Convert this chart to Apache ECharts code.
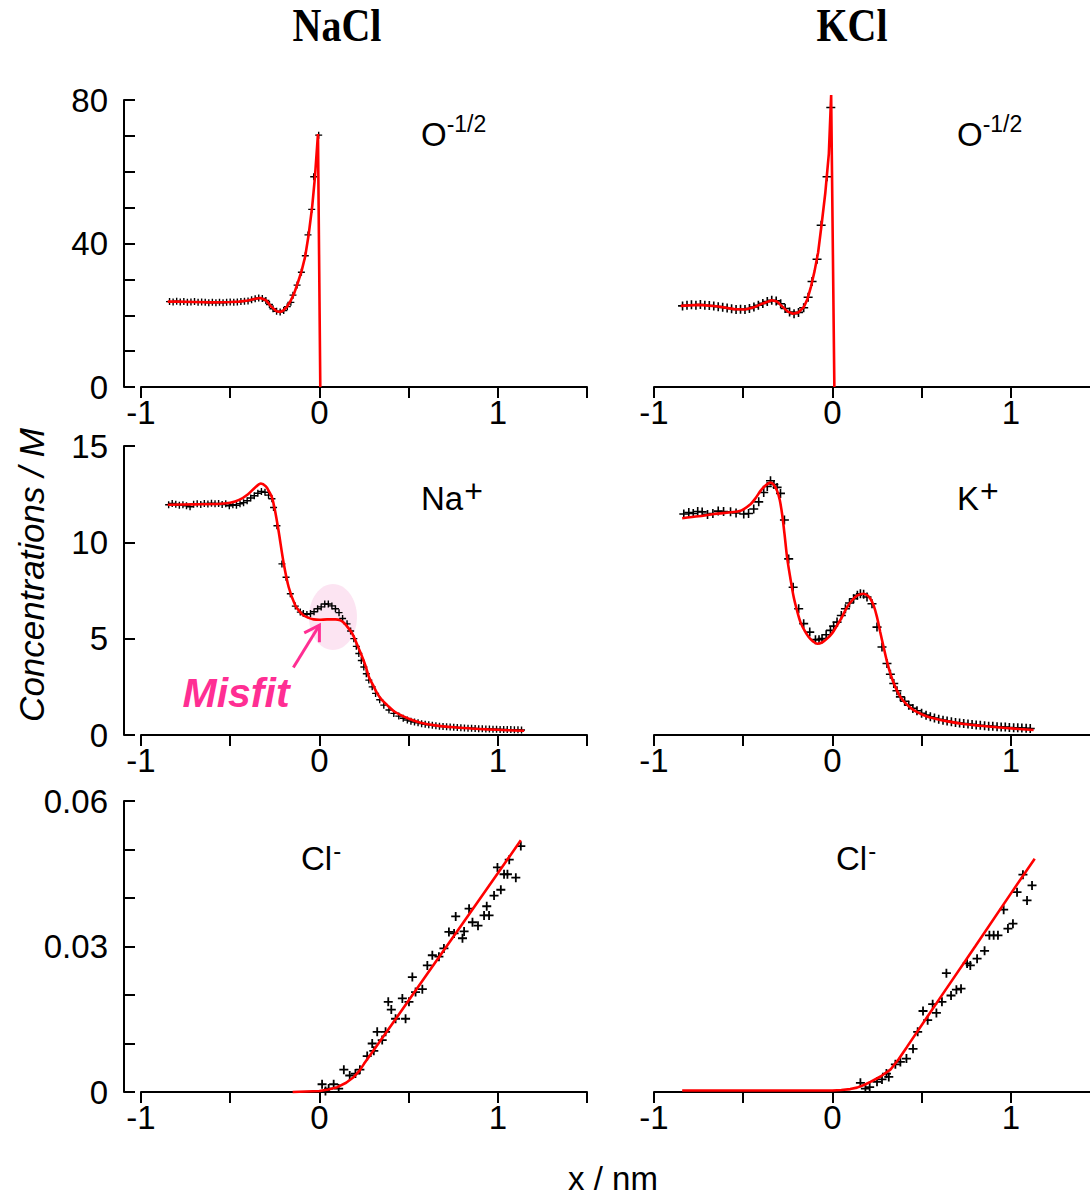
<!DOCTYPE html>
<html>
<head>
<meta charset="utf-8">
<script src="https://cdn.jsdelivr.net/npm/echarts@6/dist/echarts.min.js"></script>
<style>
html,body{margin:0;padding:0;background:#fff;}
#chart{width:1090px;height:1196px;}
</style>
</head>
<body>
<div id="chart"></div>
<script>
// ---------------- DATA ----------------
const columnTitles = ['NaCl', 'KCl'];
const xTickLabels = ['-1', '0', '1'];
const yTickLabelsO = ['0', '40', '80'];
const yTickLabelsCation = ['0', '5', '10', '15'];
const yTickLabelsCl = ['0', '0.03', '0.06'];

// O^-1/2 , NaCl : simulation points [x (nm), concentration (M)]
const oNaClSim = [[-0.84,23.8],[-0.82,23.7],[-0.80,23.9],[-0.78,23.7],[-0.76,23.8],[-0.74,23.6],[-0.72,23.7],[-0.70,23.8],[-0.68,23.6],[-0.66,23.7],[-0.64,23.6],[-0.62,23.5],[-0.60,23.6],[-0.58,23.5],[-0.56,23.6],[-0.54,23.5],[-0.52,23.6],[-0.50,23.7],[-0.48,23.6],[-0.46,23.7],[-0.44,23.8],[-0.42,23.9],[-0.40,24.0],[-0.38,24.3],[-0.36,24.6],[-0.34,24.8],[-0.32,24.7],[-0.30,24.1],[-0.28,23.0],[-0.26,21.8],[-0.24,21.1],[-0.22,20.9],[-0.20,21.3],[-0.18,22.4],[-0.16,23.6],[-0.148,25.6],[-0.125,28.4],[-0.101,32.0],[-0.079,36.6],[-0.064,42.4],[-0.043,49.5],[-0.032,58.6],[-0.004,70.2]];
const oNaClFit = [[-0.85,23.8],[-0.80,23.8],[-0.70,23.7],[-0.60,23.6],[-0.50,23.7],[-0.45,23.8],[-0.40,24.1],[-0.36,24.6],[-0.33,24.8],[-0.30,24.2],[-0.27,22.4],[-0.24,21.1],[-0.22,20.9],[-0.20,21.4],[-0.18,22.5],[-0.16,24.1],[-0.14,26.3],[-0.12,29.2],[-0.10,32.3],[-0.08,36.3],[-0.06,42.5],[-0.04,50.5],[-0.025,58.5],[-0.008,70.5],[0.005,0]];

// O^-1/2 , KCl
const oKClSim = [[-0.84,22.6],[-0.815,22.8],[-0.79,22.9],[-0.765,22.8],[-0.74,23.0],[-0.715,22.8],[-0.69,22.7],[-0.665,22.6],[-0.64,22.4],[-0.615,22.2],[-0.59,22.0],[-0.565,21.8],[-0.54,21.6],[-0.515,21.7],[-0.49,21.6],[-0.465,21.9],[-0.44,22.3],[-0.415,22.8],[-0.39,23.3],[-0.365,23.8],[-0.34,24.2],[-0.315,24.0],[-0.29,23.2],[-0.265,21.9],[-0.24,20.9],[-0.215,20.4],[-0.19,20.8],[-0.161,22.1],[-0.136,25.0],[-0.114,29.4],[-0.086,35.6],[-0.063,45.1],[-0.030,58.6],[-0.009,77.9]];
const oKClFit = [[-0.85,22.6],[-0.75,22.9],[-0.65,22.5],[-0.55,21.7],[-0.49,21.6],[-0.44,22.2],[-0.39,23.3],[-0.34,24.2],[-0.31,23.8],[-0.28,22.4],[-0.25,21.0],[-0.22,20.4],[-0.19,20.8],[-0.16,22.3],[-0.14,24.5],[-0.12,28.0],[-0.10,32.3],[-0.08,37.5],[-0.06,45.5],[-0.04,54.0],[-0.02,65.0],[-0.007,81.4],[0.011,0]];

// Na+ , NaCl
const naSim = [[-0.845,11.95],[-0.825,12.02],[-0.805,11.98],[-0.785,11.92],[-0.765,11.95],[-0.745,11.9],[-0.725,11.85],[-0.705,11.98],[-0.685,12.0],[-0.665,11.97],[-0.645,12.02],[-0.625,11.99],[-0.605,12.03],[-0.585,12.0],[-0.565,12.02],[-0.545,11.96],[-0.525,12.0],[-0.505,11.9],[-0.485,11.95],[-0.465,11.92],[-0.445,12.0],[-0.425,12.06],[-0.405,12.16],[-0.385,12.3],[-0.365,12.42],[-0.345,12.55],[-0.325,12.64],[-0.305,12.6],[-0.285,12.45],[-0.266,12.26],[-0.257,11.81],[-0.238,10.86],[-0.21,8.88],[-0.187,8.19],[-0.163,7.33],[-0.135,6.69],[-0.107,6.38],[-0.09,6.3],[-0.07,6.26],[-0.05,6.3],[-0.03,6.4],[-0.01,6.55],[0.01,6.65],[0.03,6.8],[0.05,6.8],[0.07,6.7],[0.09,6.55],[0.11,6.35],[0.13,6.05],[0.155,5.77],[0.175,5.4],[0.193,5.0],[0.207,4.6],[0.221,4.23],[0.235,3.87],[0.249,3.53],[0.263,3.18],[0.277,2.85],[0.296,2.5],[0.315,2.16],[0.338,1.83],[0.361,1.55],[0.39,1.3],[0.417,1.12],[0.445,0.98],[0.47,0.87],[0.493,0.78],[0.513,0.72],[0.533,0.67],[0.553,0.63],[0.573,0.59],[0.593,0.56],[0.613,0.53],[0.633,0.5],[0.653,0.48],[0.673,0.46],[0.693,0.44],[0.713,0.43],[0.733,0.41],[0.753,0.4],[0.773,0.39],[0.793,0.37],[0.813,0.36],[0.833,0.35],[0.853,0.35],[0.873,0.34],[0.893,0.33],[0.913,0.32],[0.933,0.31],[0.953,0.31],[0.973,0.3],[0.993,0.3],[1.013,0.29],[1.033,0.29],[1.053,0.28],[1.073,0.28],[1.093,0.27],[1.113,0.27],[1.133,0.26]];
const naFit = [[-0.85,11.95],[-0.7,11.97],[-0.55,12.0],[-0.5,12.05],[-0.45,12.2],[-0.4,12.5],[-0.36,12.85],[-0.328,13.05],[-0.3,12.9],[-0.28,12.6],[-0.266,12.33],[-0.25,11.7],[-0.229,10.6],[-0.2,8.9],[-0.172,7.67],[-0.135,6.72],[-0.11,6.4],[-0.088,6.2],[-0.06,6.08],[-0.032,6.0],[0.0,5.98],[0.043,6.0],[0.09,6.0],[0.118,5.95],[0.14,5.8],[0.165,5.52],[0.185,5.25],[0.202,4.91],[0.22,4.5],[0.24,4.05],[0.26,3.55],[0.277,3.02],[0.3,2.6],[0.324,2.16],[0.35,1.82],[0.38,1.55],[0.42,1.22],[0.474,0.95],[0.52,0.78],[0.567,0.64],[0.65,0.5],[0.755,0.4],[0.85,0.34],[0.942,0.29],[1.05,0.25],[1.148,0.22]];

// K+ , KCl
const kSim = [[-0.833,11.47],[-0.805,11.55],[-0.78,11.5],[-0.755,11.6],[-0.73,11.58],[-0.7,11.45],[-0.67,11.5],[-0.64,11.62],[-0.61,11.6],[-0.571,11.59],[-0.54,11.52],[-0.497,11.47],[-0.47,11.5],[-0.441,11.73],[-0.413,12.1],[-0.385,12.59],[-0.365,12.9],[-0.347,13.2],[-0.328,13.0],[-0.31,12.85],[-0.291,12.54],[-0.269,11.16],[-0.245,9.14],[-0.22,7.67],[-0.189,6.55],[-0.161,5.78],[-0.127,5.34],[-0.095,4.95],[-0.075,4.95],[-0.058,5.0],[-0.035,5.2],[-0.011,5.43],[0.007,5.65],[0.026,5.86],[0.05,6.2],[0.073,6.55],[0.096,6.85],[0.119,7.07],[0.14,7.25],[0.157,7.33],[0.175,7.3],[0.194,7.16],[0.222,6.81],[0.25,5.6],[0.278,4.57],[0.306,3.71],[0.325,3.15],[0.344,2.67],[0.362,2.3],[0.381,1.98],[0.405,1.75],[0.428,1.55],[0.451,1.38],[0.474,1.26],[0.5,1.13],[0.525,1.03],[0.549,0.95],[0.572,0.88],[0.596,0.82],[0.62,0.77],[0.643,0.73],[0.667,0.69],[0.69,0.65],[0.713,0.62],[0.736,0.6],[0.76,0.57],[0.783,0.55],[0.806,0.52],[0.829,0.5],[0.853,0.48],[0.876,0.46],[0.899,0.45],[0.923,0.43],[0.946,0.42],[0.969,0.41],[0.992,0.39],[1.016,0.38],[1.039,0.37],[1.062,0.36],[1.086,0.35],[1.109,0.34]];
const kFit = [[-0.842,11.25],[-0.75,11.35],[-0.665,11.47],[-0.515,11.64],[-0.459,11.98],[-0.43,12.3],[-0.403,12.67],[-0.375,12.95],[-0.347,13.1],[-0.328,12.98],[-0.31,12.67],[-0.295,12.2],[-0.282,11.47],[-0.268,10.4],[-0.254,9.22],[-0.235,8.1],[-0.217,7.16],[-0.198,6.45],[-0.179,5.86],[-0.155,5.4],[-0.133,5.09],[-0.11,4.87],[-0.086,4.74],[-0.058,4.8],[-0.03,5.0],[0.0,5.3],[0.026,5.69],[0.055,6.15],[0.082,6.64],[0.11,6.98],[0.138,7.24],[0.175,7.33],[0.195,7.25],[0.213,7.07],[0.232,6.7],[0.25,6.12],[0.268,5.35],[0.287,4.57],[0.305,3.85],[0.325,3.19],[0.35,2.55],[0.381,1.98],[0.415,1.6],[0.455,1.29],[0.5,1.08],[0.549,0.91],[0.64,0.72],[0.736,0.57],[0.83,0.48],[0.923,0.4],[1.02,0.33],[1.128,0.26]];

// Cl- , NaCl
const clNaClSim = [[0.015,0.0016],[0.034,0.0002],[0.052,0.0007],[0.080,0.0016],[0.108,0.0007],[0.137,0.0046],[0.170,0.0034],[0.202,0.0038],[0.227,0.0046],[0.268,0.0074],[0.296,0.0100],[0.305,0.0085],[0.324,0.0124],[0.352,0.0107],[0.371,0.0124],[0.386,0.0186],[0.403,0.0170],[0.427,0.0151],[0.465,0.0193],[0.483,0.0151],[0.502,0.0186],[0.521,0.0237],[0.539,0.0206],[0.577,0.0212],[0.605,0.0261],[0.633,0.0282],[0.670,0.0279],[0.698,0.0296],[0.726,0.0330],[0.755,0.0327],[0.764,0.0362],[0.802,0.0317],[0.811,0.0331],[0.839,0.0378],[0.858,0.0350],[0.889,0.0343],[0.923,0.0364],[0.938,0.0383],[0.951,0.0364],[0.979,0.0405],[0.998,0.0463],[1.017,0.0417],[1.035,0.0449],[1.054,0.0449],[1.064,0.0479],[1.101,0.0442],[1.129,0.0507]];
const clNaClFit = [[-0.15,0],[0.0,0.0002],[0.05,0.0005],[0.1,0.001],[0.15,0.0019],[0.193,0.0031],[0.225,0.0044],[0.25,0.0058],[0.3,0.0084],[0.4,0.0136],[0.6,0.0241],[0.8,0.0346],[1.0,0.0451],[1.129,0.0519]];

// Cl- , KCl
const clKClSim = [[0.157,0.0019],[0.185,0.0007],[0.209,0.0010],[0.250,0.0021],[0.278,0.0026],[0.303,0.0038],[0.316,0.0031],[0.353,0.0057],[0.381,0.0062],[0.415,0.0069],[0.452,0.0089],[0.478,0.0124],[0.508,0.0167],[0.534,0.0148],[0.562,0.0181],[0.583,0.0163],[0.614,0.0186],[0.639,0.0245],[0.665,0.0199],[0.695,0.0211],[0.721,0.0213],[0.755,0.0265],[0.773,0.0261],[0.811,0.0275],[0.853,0.0291],[0.880,0.0323],[0.904,0.0323],[0.928,0.0323],[0.960,0.0376],[0.984,0.0337],[1.012,0.0347],[1.035,0.0412],[1.068,0.0448],[1.091,0.0395],[1.119,0.0426]];
const clKClFit = [[-0.842,0.0003],[0.0,0.0003],[0.05,0.0004],[0.1,0.0006],[0.138,0.0009],[0.18,0.0015],[0.213,0.0021],[0.27,0.0032],[0.325,0.0046],[0.37,0.0067],[0.418,0.0093],[0.6,0.0192],[0.8,0.0300],[1.0,0.0409],[1.134,0.0481]];

// ---------------- CHART ----------------
const FONT = "'Liberation Sans', Arial, Helvetica, sans-serif";
const PLUS = 'path://M0,5L10,5M5,0L5,10';
const chart = echarts.init(document.getElementById('chart'), null, {renderer: 'svg'});

const colLeft = [141, 654];
const panelW = 446;
const rows = [
  {top: 100, height: 287, min: 0, max: 80, interval: 10, labels: yTickLabelsO},
  {top: 446, height: 289, min: 0, max: 15, interval: 5, labels: yTickLabelsCation},
  {top: 801, height: 291, min: 0, max: 0.06, interval: 0.01, labels: yTickLabelsCl}
];

const grids = [], xAxes = [], yAxes = [];
rows.forEach((r, ri) => {
  [0, 1].forEach(ci => {
    const gi = ri * 2 + ci;
    grids.push({left: colLeft[ci], top: r.top, width: panelW, height: r.height, containLabel: false, outerBoundsMode: 'none'});
    xAxes.push({
      type: 'value', gridIndex: gi, min: -1, max: 1.5, interval: 0.5,
      axisLine: {show: true, onZero: false, lineStyle: {color: '#000', width: 2}},
      axisTick: {show: true, inside: false, length: 11, lineStyle: {color: '#000', width: 2}},
      axisLabel: {show: true, margin: 9, fontSize: 33, fontFamily: FONT, color: '#000',
        formatter: v => { const s = String(Math.round(v)); return (Math.abs(v - Math.round(v)) < 1e-9 && xTickLabels.includes(s)) ? s : ''; }},
      splitLine: {show: false}
    });
    yAxes.push({
      type: 'value', gridIndex: gi, min: r.min, max: r.max, interval: r.interval,
      show: ci === 0, offset: 17,
      axisLine: {show: true, onZero: false, lineStyle: {color: '#000', width: 2}},
      axisTick: {show: true, inside: true, length: 11, lineStyle: {color: '#000', width: 2}},
      axisLabel: {show: true, margin: 16, fontSize: 33, fontFamily: FONT, color: '#000',
        formatter: v => { const s = (Math.abs(v) < 1e-12) ? '0' : String(parseFloat(v.toFixed(4))); return r.labels.includes(s) ? s : ''; }},
      splitLine: {show: false}
    });
  });
});

const panels = [
  {sim: oNaClSim, fit: oNaClFit, size: 7, bw: 1.4, smooth: false},
  {sim: oKClSim, fit: oKClFit, size: 9, bw: 1.6, smooth: false},
  {sim: naSim, fit: naFit, size: 7, bw: 1.4, smooth: 0.3},
  {sim: kSim, fit: kFit, size: 9, bw: 1.6, smooth: 0.3},
  {sim: clNaClSim, fit: clNaClFit, size: 9, bw: 1.8, smooth: false},
  {sim: clKClSim, fit: clKClFit, size: 9, bw: 1.8, smooth: false}
];
const series = [];
panels.forEach((p, gi) => {
  series.push({
    type: 'scatter', xAxisIndex: gi, yAxisIndex: gi, data: p.sim,
    symbol: PLUS, symbolSize: p.size, silent: true, z: 2,
    itemStyle: {color: 'none', borderColor: '#000', borderWidth: p.bw, opacity: 1}
  });
  series.push({
    type: 'line', xAxisIndex: gi, yAxisIndex: gi, data: p.fit,
    showSymbol: false, symbol: 'none', smooth: p.smooth, clip: false, silent: true, z: 3,
    lineStyle: {color: '#ff0000', width: 2.6}
  });
});

// text measurement for placing superscripts next to their base text
const mctx = document.createElement('canvas').getContext('2d');
function textW(t, size) { mctx.font = size + "px 'Liberation Sans', Arial, sans-serif"; return mctx.measureText(t).width; }

function centered(x, y, text, extra) {
  return Object.assign({type: 'text', x: x, y: y, silent: true, z: 10,
    style: Object.assign({text: text, fontSize: 33, fontFamily: FONT, fill: '#000',
      align: 'left', verticalAlign: 'middle', textAlign: 'left', textVerticalAlign: 'middle'}, extra || {})});
}
// base text (left x, vertical centre of cap letters) + superscript (vertical centre, size, gap)
function supLabel(x, yc, base, sup, supSize, supYc, gap) {
  const w = textW(base, 33);
  return [
    centered(x, yc, base),
    centered(x + w + gap, supYc, sup, {fontSize: supSize})
  ];
}

const baseGraphics = [
  {type: 'text', x: 337, y: 26, scaleY: 1.15, silent: true,
   style: {text: columnTitles[0], fontSize: 40, fontWeight: 'bold', fontFamily: "'Liberation Serif', 'Times New Roman', serif", fill: '#000', align: 'center', verticalAlign: 'middle', textAlign: 'center', textVerticalAlign: 'middle'}},
  {type: 'text', x: 852, y: 26, scaleY: 1.15, silent: true,
   style: {text: columnTitles[1], fontSize: 40, fontWeight: 'bold', fontFamily: "'Liberation Serif', 'Times New Roman', serif", fill: '#000', align: 'center', verticalAlign: 'middle', textAlign: 'center', textVerticalAlign: 'middle'}},
  {type: 'text', x: 31, y: 575, rotation: Math.PI / 2, silent: true,
   style: {text: 'Concentrations / M', fontSize: 35, fontStyle: 'italic', fontFamily: FONT, fill: '#000', align: 'center', verticalAlign: 'middle', textAlign: 'center', textVerticalAlign: 'middle'}},
  {type: 'text', x: 613, y: 1178, silent: true,
   style: {text: 'x / nm', fontSize: 33, fontFamily: FONT, fill: '#000', align: 'center', verticalAlign: 'middle', textAlign: 'center', textVerticalAlign: 'middle'}}
].concat(
  supLabel(421, 134.5, 'O', '-1/2', 23, 124, 0),
  supLabel(957, 134.5, 'O', '-1/2', 23, 124, 0),
  supLabel(421, 498.5, 'Na', '+', 32, 491, 1),
  supLabel(957, 498.5, 'K', '+', 32, 491, 1),
  supLabel(301, 858, 'Cl', '-', 24, 850, 1),
  supLabel(836, 858, 'Cl', '-', 24, 850, 1)
);

chart.setOption({
  animation: false,
  backgroundColor: '#fff',
  grid: grids, xAxis: xAxes, yAxis: yAxes, series: series,
  graphic: {elements: baseGraphics}
});

// Misfit annotation anchored to data coordinates of the Na+ panel
const c = chart.convertToPixel({gridIndex: 2}, [0.076, 6.13]);
const tip = chart.convertToPixel({gridIndex: 2}, [0.0, 5.7]);
const tail = chart.convertToPixel({gridIndex: 2}, [-0.146, 3.5]);
const pink = '#ff2e93';
const dx = tail[0] - tip[0], dy = tail[1] - tip[1];
const len = Math.hypot(dx, dy), ux = dx / len, uy = dy / len;
const hl = 17, ang = 0.55;
const h1 = [tip[0] + hl * (ux * Math.cos(ang) - uy * Math.sin(ang)), tip[1] + hl * (ux * Math.sin(ang) + uy * Math.cos(ang))];
const h2 = [tip[0] + hl * (ux * Math.cos(-ang) - uy * Math.sin(-ang)), tip[1] + hl * (ux * Math.sin(-ang) + uy * Math.cos(-ang))];
chart.setOption({
  graphic: {elements: baseGraphics.concat([
    {type: 'ellipse', silent: true, z: 0, zlevel: 0,
     shape: {cx: c[0], cy: c[1], rx: 24, ry: 33}, style: {fill: 'rgba(250, 205, 232, 0.55)'}},
    {type: 'polyline', silent: true, z: 10, shape: {points: [tail, tip]}, style: {stroke: pink, lineWidth: 3, fill: null}},
    {type: 'polyline', silent: true, z: 10, shape: {points: [h1, tip, h2]}, style: {stroke: pink, lineWidth: 3, fill: null}},
    {type: 'text', x: 236, y: 693, silent: true, z: 10,
     style: {text: 'Misfit', fontSize: 41, fontWeight: 'bold', fontStyle: 'italic', fontFamily: FONT, fill: pink, align: 'center', verticalAlign: 'middle', textAlign: 'center', textVerticalAlign: 'middle'}}
  ])}
}, {replaceMerge: ['graphic']});
</script>
</body>
</html>
